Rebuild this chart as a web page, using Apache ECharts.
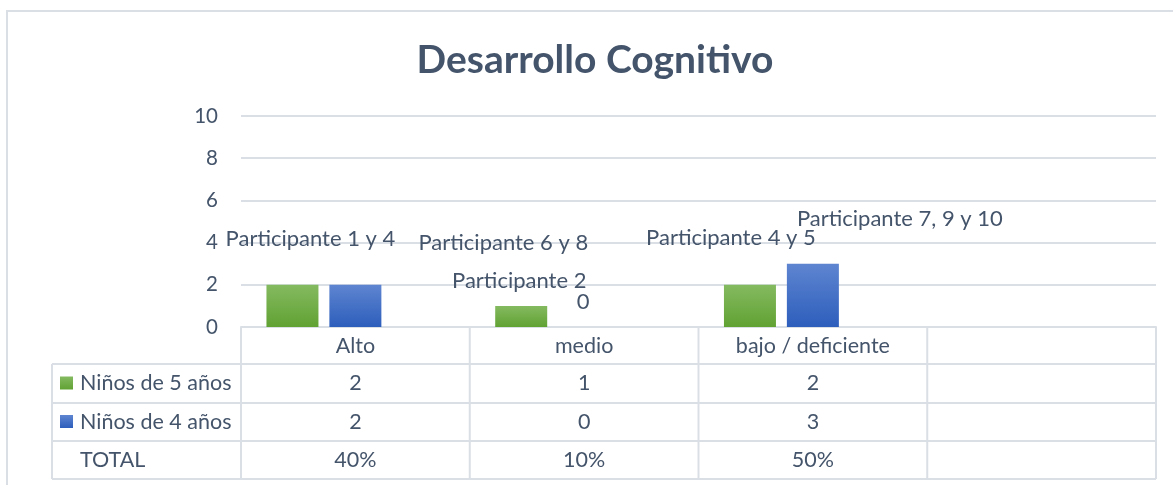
<!DOCTYPE html>
<html>
<head>
<meta charset="utf-8">
<script src="https://cdn.jsdelivr.net/npm/echarts@6/dist/echarts.min.js"></script>
<style>
  html, body { margin: 0; padding: 0; background: #ffffff; }
  #chart { width: 1173px; height: 485px; }
</style>
</head>
<body>
<div id="chart"></div>
<script>
// Categories of the evaluation (the fourth column of the table is left blank)
const categories = ['Alto', 'medio', 'bajo / deficiente', ''];
const seriesNames = ['Niños de 5 años', 'Niños de 4 años', 'TOTAL'];

// Number of children per level
const ninos5 = [2, 1, 2];
const ninos4 = [2, 0, 3];
const totals = ['40%', '10%', '50%', ''];

// Participants behind each bar
const labels5 = ['Participante 1 y 4', 'Participante 2', 'Participante 4 y 5'];
const labels4 = ['Participante 6 y 8', '0', 'Participante 7, 9 y 10'];

// Value axis
const yMin = 0, yMax = 10, yStep = 2;

// ---- styling -------------------------------------------------------------
const FONT = 'Lato';
const TEXT = '#44546A';
const LINE = '#DADFE6';
const BAR_W = 52;
const TABLE_FONT = 21.5;

// manual nudges for the participant labels: [dx, dy] from the top centre of each bar
const nudge5 = [[18, -46], [-2, -25], [-19, -47]];
const nudge4 = [[148, -42], [-1, -25], [87, -45]];

const grad = (top, bottom) => new echarts.graphic.LinearGradient(0, 0, 0, 1, [
  { offset: 0, color: top }, { offset: 1, color: bottom }
]);
const greenFill = grad('#84BA60', '#61A233');
const blueFill = grad('#5E85D0', '#2D5EBC');

function barData(values, labels, nudges) {
  return values.map((v, i) => ({
    value: v,
    label: {
      formatter: labels[i],
      position: [BAR_W / 2 + nudges[i][0], nudges[i][1]]
    }
  }));
}

const labelStyle = {
  show: true,
  align: 'center',
  verticalAlign: 'middle',
  fontFamily: FONT,
  fontSize: 22,
  color: TEXT
};

const chart = echarts.init(document.getElementById('chart'), null, { renderer: 'canvas' });

chart.setOption({
  animation: false,
  backgroundColor: '#ffffff',
  title: {
    text: 'Desarrollo Cognitivo',
    left: 590,
    top: 36,
    textAlign: 'center',
    textStyle: { fontFamily: FONT, fontWeight: 'bold', fontSize: 39, color: TEXT }
  },
  grid: { left: 241, right: 17, top: 116, bottom: 158, containLabel: false },
  xAxis: {
    type: 'category',
    data: categories,
    axisLine: { show: true, lineStyle: { color: LINE, width: 2 } },
    axisTick: { show: false },
    axisLabel: { margin: 8, fontFamily: FONT, fontSize: TABLE_FONT, color: TEXT, interval: 0 }
  },
  yAxis: {
    type: 'value',
    min: yMin,
    max: yMax,
    interval: yStep,
    axisLine: { show: false },
    axisTick: { show: false },
    axisLabel: { margin: 23, fontFamily: FONT, fontSize: 20.5, color: TEXT },
    splitLine: { lineStyle: { color: LINE, width: 2 } }
  },
  series: [
    {
      name: seriesNames[0],
      type: 'bar',
      barWidth: BAR_W,
      barGap: '21%',
      itemStyle: { color: greenFill },
      label: labelStyle,
      data: barData(ninos5, labels5, nudge5)
    },
    {
      name: seriesNames[1],
      type: 'bar',
      barWidth: BAR_W,
      barGap: '21%',
      itemStyle: { color: blueFill },
      label: labelStyle,
      data: barData(ninos4, labels4, nudge4)
    },
    {
      // TOTAL row: shown in the table only, keeps its slot in each group
      name: seriesNames[2],
      type: 'bar',
      barWidth: BAR_W,
      barGap: '21%',
      data: categories.map(() => '-')
    }
  ]
});

// ---- data table under the plot -------------------------------------------
function buildTable() {
  const c0 = chart.convertToPixel({ xAxisIndex: 0 }, 0);
  const c1 = chart.convertToPixel({ xAxisIndex: 0 }, 1);
  const band = c1 - c0;
  const plotLeft = c0 - band / 2;
  const plotRight = plotLeft + band * categories.length;
  const axisY = chart.convertToPixel({ yAxisIndex: 0 }, 0);

  const tableLeft = 52;
  const rowEdges = [axisY + 37, axisY + 76, axisY + 114, axisY + 152];
  const els = [];
  const line = (x1, y1, x2, y2) => els.push({
    type: 'line', silent: true,
    shape: { x1, y1, x2, y2 },
    style: { stroke: LINE, lineWidth: 2 }
  });

  // horizontal rules
  rowEdges.forEach(y => line(tableLeft, y, plotRight, y));
  // vertical rules
  line(tableLeft, rowEdges[0], tableLeft, rowEdges[3]);
  for (let k = 0; k <= categories.length; k++) {
    const x = plotLeft + band * k;
    line(x, axisY, x, rowEdges[3]);
  }

  const text = (x, y, s, align) => els.push({
    type: 'text', silent: true, x, y,
    style: { text: s, fontFamily: FONT, fontSize: TABLE_FONT, fill: TEXT, align, verticalAlign: 'middle' }
  });

  const rows = [ninos5, ninos4, totals];
  const fills = [greenFill, blueFill, null];
  rows.forEach((vals, r) => {
    const yMid = (rowEdges[r] + rowEdges[r + 1]) / 2;
    if (fills[r]) {
      els.push({
        type: 'rect', silent: true,
        shape: { x: 60, y: yMid - 7, width: 13, height: 13 },
        style: { fill: fills[r] }
      });
    }
    text(80, yMid, seriesNames[r], 'left');
    categories.forEach((cat, i) => {
      const v = vals[i];
      if (v === undefined || v === '') return;
      text(plotLeft + band * (i + 0.5), yMid, String(v), 'center');
    });
  });

  // chart frame
  els.push({
    type: 'rect', silent: true, z: -1,
    shape: { x: 7, y: 11, width: 1200, height: 520 },
    style: { fill: 'none', stroke: LINE, lineWidth: 2 }
  });

  chart.setOption({ graphic: { elements: els } });
}
buildTable();
</script>
</body>
</html>
